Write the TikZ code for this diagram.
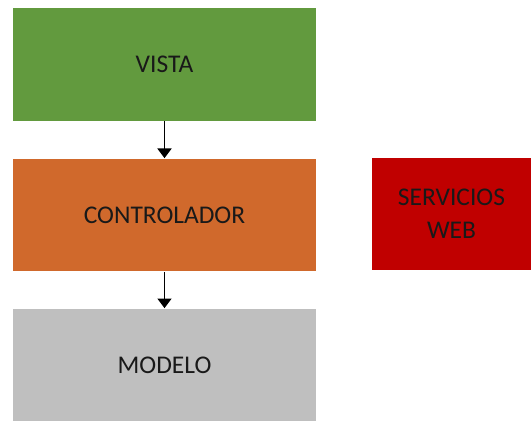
\documentclass[tikz,border=0pt]{standalone}
\usepackage{fontspec}
\setmainfont{Carlito}
\usepackage{xcolor}
\usetikzlibrary{arrows.meta}
\definecolor{vistagreen}{HTML}{629A3E}
\definecolor{ctrlorange}{HTML}{D0692C}
\definecolor{modelgray}{HTML}{BFBFBF}
\definecolor{webred}{HTML}{C00000}

\begin{document}
\begin{tikzpicture}[x=0.02cm, y=-0.02cm, >={Triangle[width=8pt,length=5.5pt]},
    layer/.style={minimum width=6.06cm, minimum height=2.26cm, inner sep=0pt,
                  font=\fontsize{14.5}{17}\selectfont, text=black!90},
    side/.style={minimum width=3.18cm, minimum height=2.24cm, inner sep=0pt,
                 align=center, font=\fontsize{14.5}{19}\selectfont, text=black!90}]
  \useasboundingbox (0,0) rectangle (531,423);
  % tres capas apiladas
  \node[layer, fill=vistagreen] (vista) at (164.5, 64.5) {VISTA};
  \node[layer, fill=ctrlorange] (ctrl) at (164.5, 215) {CONTROLADOR};
  \node[layer, fill=modelgray] (modelo) at (164.5, 365) {MODELO};
  % bloque lateral
  \node[side, fill=webred] (web) at (451.5, 214) {SERVICIOS\\WEB};
  \draw[->, black, line width=0.8pt] (vista) -- (ctrl);
  \draw[->, black, line width=0.8pt] (ctrl) -- (modelo);
\end{tikzpicture}
\end{document}
